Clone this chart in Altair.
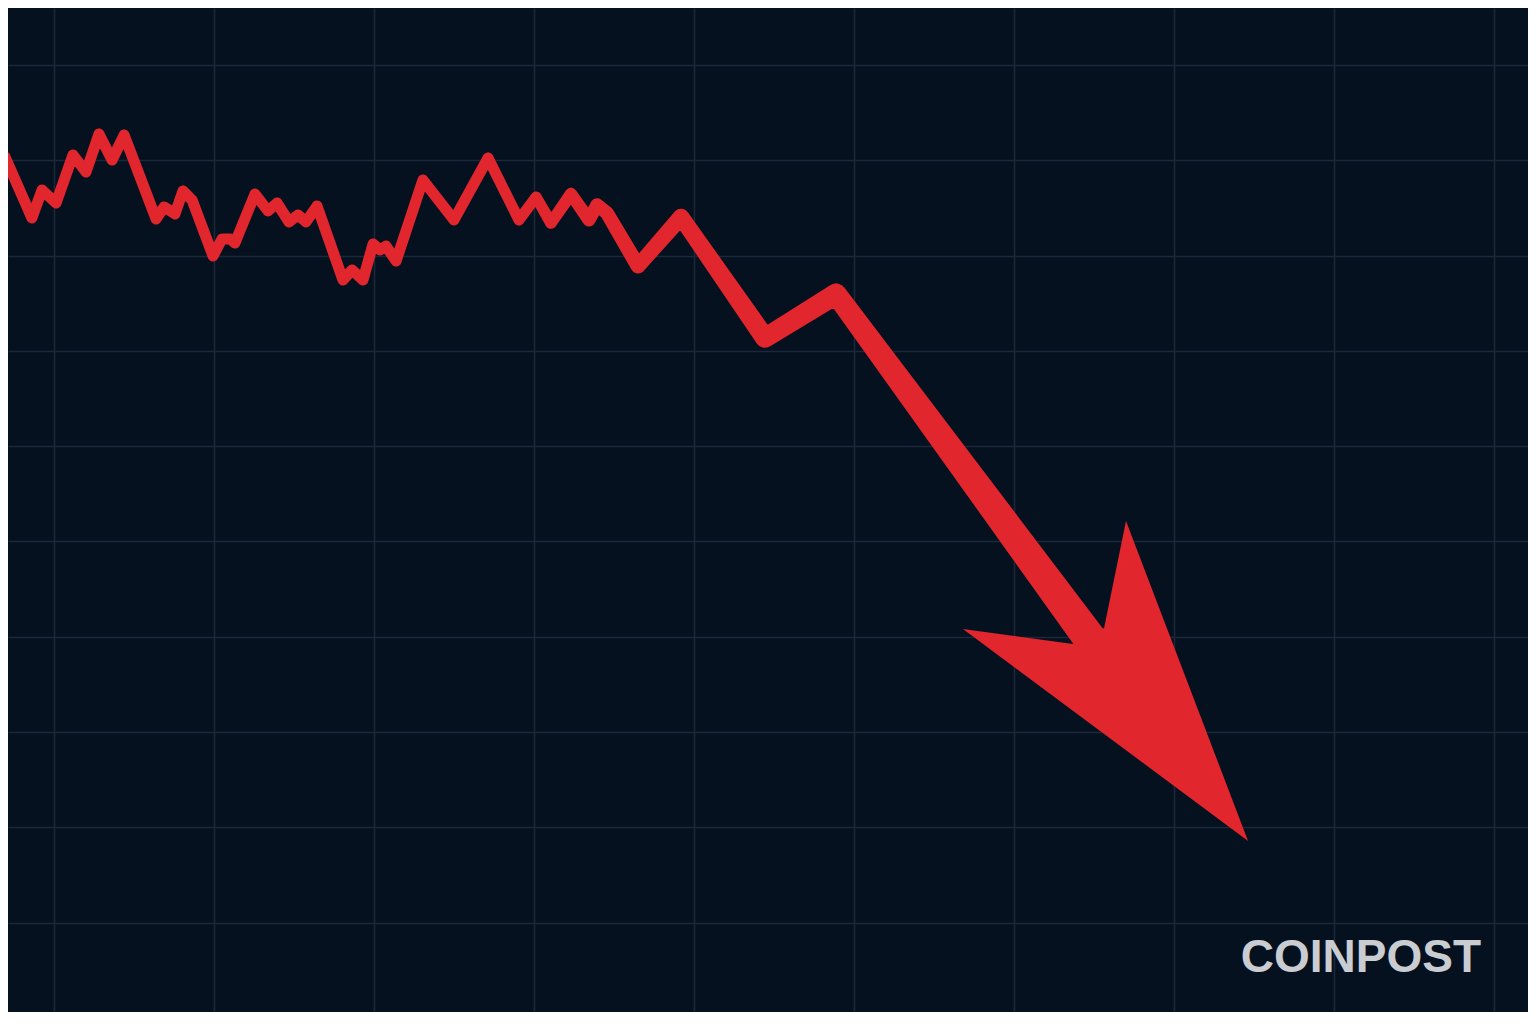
import altair as alt
import pandas as pd

# ---- data (day index, price) ----
day = [-3.38, -3.06, -1.38, -0.75, 0.13, 1.19, 2.0, 2.81, 3.63, 4.38,
       6.38, 6.88, 7.56, 8.06, 8.63, 9.94, 10.5, 11.0, 11.31, 12.56,
       13.38, 13.94, 14.69, 15.25, 15.75, 16.44, 18.06, 18.63, 19.31, 19.94,
       20.38, 20.75, 21.38, 23.06, 25.0, 27.13, 29.06, 30.13, 31.06, 32.31,
       33.44, 33.94, 34.56, 36.5, 39.19, 44.44, 48.88, 66.0]
price = [88.98, 90.35, 83.95, 86.88, 85.52, 90.56, 88.77, 92.76, 90.03, 92.65,
         83.84, 85.10, 84.37, 86.78, 85.83, 79.96, 81.74, 81.74, 81.32, 86.46,
         84.68, 85.52, 83.53, 84.26, 83.53, 85.20, 77.44, 78.49, 77.44, 81.22,
         80.59, 81.01, 79.43, 87.93, 83.74, 90.24, 83.74, 86.15, 83.42, 86.46,
         83.74, 85.31, 84.47, 78.91, 84.05, 71.35, 75.97, 36.94]

# arrow head outline
head_day = [56.81, 63.69, 65.63, 67.0, 74.63]
head_price = [40.82, 39.24, 40.92, 52.15, 18.57]

# grid positions
x_grid = [0, 10, 20, 30, 40, 50, 60, 70, 80, 90]
y_grid = [0, 10, 20, 30, 40, 50, 60, 70, 80, 90, 100]

brand = ["COINPOST"]

W, H = 1520, 1004
RED = "#e1262d"
BG = "#06111f"

line_df = pd.DataFrame({"day": day, "price": price, "i": list(range(len(day)))})
head_df = pd.DataFrame({"day": head_day, "price": head_price,
                        "i": list(range(len(head_day)))})
text_df = pd.DataFrame({"t": brand})

xs = alt.Scale(domain=[-2.875, 92.125], nice=False, zero=False)
ys = alt.Scale(domain=[0.63, 105.98], nice=False, zero=False)

x_axis = alt.Axis(values=x_grid, grid=True, labels=False, ticks=False,
                  domain=False, title="")
y_axis = alt.Axis(values=y_grid, grid=True, labels=False, ticks=False,
                  domain=False, title="")

# the stroke thickens as the fall accelerates
width_scale = alt.Scale(domain=[30, 44, 49, 66], range=[11, 19.5, 21, 34],
                        clamp=True)

trail = alt.Chart(line_df).mark_trail(color=RED, clip=True).encode(
    x=alt.X("day:Q", scale=xs, axis=x_axis),
    y=alt.Y("price:Q", scale=ys, axis=y_axis),
    order=alt.Order("i:Q"),
    size=alt.Size("day:Q", scale=width_scale, legend=None),
)

head = alt.Chart(head_df).mark_line(
    filled=True, color=RED, interpolate="linear-closed", clip=True
).encode(
    x=alt.X("day:Q", scale=xs),
    y=alt.Y("price:Q", scale=ys),
    order=alt.Order("i:Q"),
)

label = alt.Chart(text_df).mark_text(
    align="right", baseline="alphabetic", font="Liberation Sans",
    fontWeight="bold", fontSize=46, color="#c9ccd0"
).encode(
    x=alt.value(1473), y=alt.value(964), text="t:N"
)

chart = alt.layer(trail, head, label).properties(
    width=W, height=H, padding=0,
    autosize=alt.AutoSizeParams(type="none"),
    background=BG,
).configure_view(
    fill=BG, strokeOpacity=0
).configure_axis(
    gridColor="#1b283b", gridWidth=1.6, gridOpacity=1
)

chart.save("out.html", embed_options={"renderer": "svg", "actions": False})
